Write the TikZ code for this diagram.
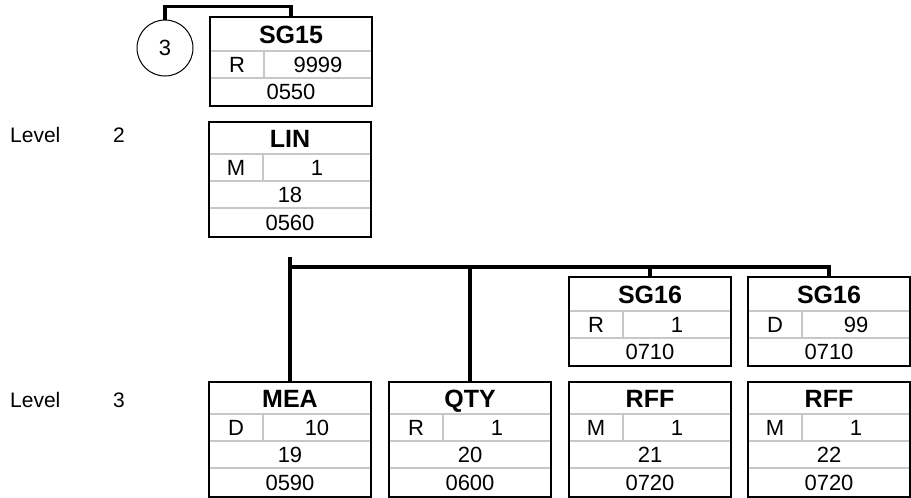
\documentclass[tikz,border=0pt]{standalone}
\usepackage{fontspec}
\setmainfont{Liberation Sans}
\usetikzlibrary{positioning,calc}

\tikzset{
  segframe/.style={rectangle, minimum width=162pt, inner sep=0pt, outer sep=0pt, anchor=north west},
  frameline/.style={draw=black, line width=2.2pt},
  rowline/.style={draw=black!22, line width=1.2pt},
  link/.style={draw=black, line width=3.2pt},
  tagtext/.style={font=\fontsize{25}{25}\selectfont\bfseries, inner sep=0pt, text height=17.9pt, text depth=0pt},
  celltext/.style={font=\fontsize{22}{22}\selectfont, inner sep=0pt, text height=15.75pt, text depth=0pt},
  leveltext/.style={font=\fontsize{21}{21}\selectfont, inner sep=0pt, anchor=base west},
}

% segment box: name, x, y, tag, status, repeat, number, position
\newcommand{\segnode}[8]{%
  \node[segframe, minimum height=115pt] (#1) at (#2,#3) {};
  \draw[rowline] ($(#1.north west)+(0,32)$) -- ($(#1.north east)+(0,32)$);
  \draw[rowline] ($(#1.north west)+(0,59)$) -- ($(#1.north east)+(0,59)$);
  \draw[rowline] ($(#1.north west)+(0,86)$) -- ($(#1.north east)+(0,86)$);
  \draw[rowline] ($(#1.north west)+(54,32)$) -- ($(#1.north west)+(54,59)$);
  \draw[frameline] (#1.north west) rectangle (#1.south east);
  \node[tagtext] at ($(#1.north)+(0,16.5)$) {#4};
  \node[celltext] at ($(#1.north west)+(27,45.5)$) {#5};
  \node[celltext] at ($(#1.north west)+(108,45.5)$) {#6};
  \node[celltext] at ($(#1.north)+(0,72.5)$) {#7};
  \node[celltext] at ($(#1.north)+(0,100.5)$) {#8};
}

% group box: name, x, y, tag, status, repeat, position
\newcommand{\grpnode}[7]{%
  \node[segframe, minimum height=89pt] (#1) at (#2,#3) {};
  \draw[rowline] ($(#1.north west)+(0,34)$) -- ($(#1.north east)+(0,34)$);
  \draw[rowline] ($(#1.north west)+(0,61)$) -- ($(#1.north east)+(0,61)$);
  \draw[rowline] ($(#1.north west)+(54,34)$) -- ($(#1.north west)+(54,61)$);
  \draw[frameline] (#1.north west) rectangle (#1.south east);
  \node[tagtext] at ($(#1.north)+(0,17.5)$) {#4};
  \node[celltext] at ($(#1.north west)+(27,47.5)$) {#5};
  \node[celltext] at ($(#1.north west)+(108,47.5)$) {#6};
  \node[celltext] at ($(#1.north)+(0,75)$) {#7};
}

\begin{document}
\begin{tikzpicture}[x=1pt, y=-1pt]
  \useasboundingbox (0,0) rectangle (911,498);

  % level labels
  \node[leveltext] (lvl2) at (10,142) {Level};
  \node[leveltext] (lvl2n) at (113,142) {2};
  \node[leveltext] (lvl3) at (10,407) {Level};
  \node[leveltext] (lvl3n) at (113,407) {3};

  % boxes
  \node[draw=black, line width=1pt, circle, minimum size=56pt, inner sep=0pt,
        font=\fontsize{22}{22}\selectfont, text height=15.75pt, text depth=0pt] (c3) at (165,48) {3};
  \grpnode{sg15}{210}{17}{SG15}{R}{9999}{0550}
  \segnode{lin}{209}{122}{LIN}{M}{1}{18}{0560}
  \grpnode{sg16a}{569}{277}{SG16}{R}{1}{0710}
  \grpnode{sg16b}{748}{277}{SG16}{D}{99}{0710}
  \segnode{mea}{209}{382}{MEA}{D}{10}{19}{0590}
  \segnode{qty}{389}{382}{QTY}{R}{1}{20}{0600}
  \segnode{rffa}{569}{382}{RFF}{M}{1}{21}{0720}
  \segnode{rffb}{748}{382}{RFF}{M}{1}{22}{0720}

  % connectors
  \coordinate (bar) at (0,267);
  \coordinate (lintop) at ($(mea.north |- bar)+(0,-10)$);
  \draw[link] (c3.north) -- ++(0,-13) -| (sg15.north);
  \draw[link] (lintop) -- (mea.north);
  \draw[link] (mea.north |- bar) -| (sg16b.north);
  \draw[link] (qty.north |- bar) -- (qty.north);
  \draw[link] (sg16a.north |- bar) -- (sg16a.north);
\end{tikzpicture}
\end{document}
